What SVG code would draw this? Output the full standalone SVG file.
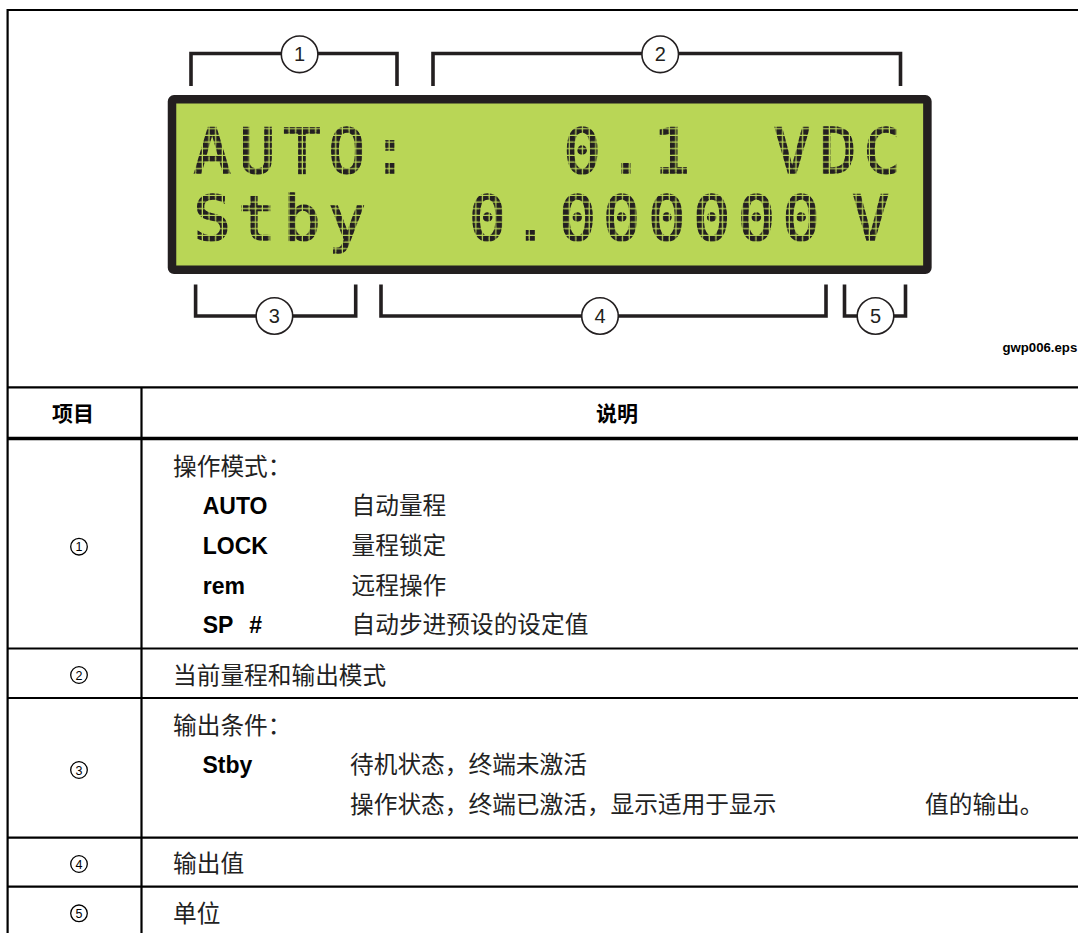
<svg xmlns="http://www.w3.org/2000/svg" width="1078" height="933" viewBox="0 0 1078 933">
<defs>
<pattern id="dots" patternUnits="userSpaceOnUse" x="196.3" y="129.3" width="6.67" height="6.67">
<rect x="0" y="0" width="5.4" height="5.4" fill="#231f20"/>
</pattern>
<style>
.frame{fill:none;stroke:#000;stroke-width:2.2}
.rule{stroke:#000;stroke-width:2.2}
.thick{stroke:#000;stroke-width:3.6}
.br{fill:none;stroke:#231f20;stroke-width:3.6}
.co{fill:#fff;stroke:#231f20;stroke-width:1.6}
.con{font-family:"Liberation Sans",Arial,sans-serif;font-size:20px;fill:#231f20;text-anchor:middle}
.lcd{font-family:"DejaVu Sans Mono",monospace;font-weight:normal;font-size:62px;fill:url(#dots);stroke:url(#dots);stroke-width:1.5;text-anchor:middle}
.tc{fill:#fff;stroke:#000;stroke-width:1.3}
.tcn{font-family:"Liberation Sans",Arial,sans-serif;font-size:12.5px;fill:#000;text-anchor:middle}
.hd{font-family:"Noto Sans CJK SC",sans-serif;font-weight:bold;font-size:21px;fill:#000;text-anchor:middle}
.cjk{font-family:"Liberation Serif","Noto Sans CJK SC",sans-serif;font-size:23.7px;fill:#222}
.lb{font-family:"Liberation Sans",Arial,sans-serif;font-weight:bold;font-size:23px;fill:#000}
.eps{font-family:"Liberation Sans",Arial,sans-serif;font-weight:bold;font-size:13.2px;fill:#000}
</style>
</defs>
<rect width="1078" height="933" fill="#fff"/>

<g id="frame">
<path class="frame" d="M1080,10 H7.6 V935"/>
</g>

<g id="lcd">
<rect x="172" y="99.3" width="755.4" height="170.5" rx="2" fill="#b9d656" stroke="#231f20" stroke-width="8.5"/>
<text class="lcd" y="173.3" x="212.2 256.9 301.9 346.9 390">AUTO:</text>
<text class="lcd" y="173.3" x="582.1 626 671.7">0.1</text>
<text class="lcd" y="173.3" x="792.2 838 882.1">VDC</text>
<text class="lcd" y="240.3" x="212.2 256.9 301.9 346.9">Stby</text>
<text class="lcd" y="240.3" x="487.7 530.5 577.3 621.7 666.8 711.6 756.4 801.1">0.000000</text>
<text class="lcd" y="240.3" x="870.7">V</text>
</g>

<g id="connectors">
<path class="br" d="M191,86 V53.5 H397 V86"/>
<path class="br" d="M433,86 V53.5 H900.5 V86"/>
<path class="br" d="M195.6,284.5 V316 H355.7 V284.5"/>
<path class="br" d="M381,284.5 V316 H826 V284.5"/>
<path class="br" d="M844.5,284.5 V316 H905.5 V284.5"/>
</g>

<g id="callout1"><circle class="co" cx="299.6" cy="54.3" r="18.3"/><text class="con" x="299.6" y="61.3">1</text></g>
<g id="callout2"><circle class="co" cx="660.2" cy="54.3" r="18.3"/><text class="con" x="660.2" y="61.3">2</text></g>
<g id="callout3"><circle class="co" cx="274.4" cy="316" r="18.3"/><text class="con" x="274.4" y="323">3</text></g>
<g id="callout4"><circle class="co" cx="600" cy="316" r="18.3"/><text class="con" x="600" y="323">4</text></g>
<g id="callout5"><circle class="co" cx="875.5" cy="316" r="18.3"/><text class="con" x="875.5" y="323">5</text></g>

<text class="eps" x="1002.5" y="352">gwp006.eps</text>

<g id="table-grid">
<line class="rule" x1="7.6" y1="387.3" x2="1080" y2="387.3"/>
<line class="thick" x1="7.6" y1="438.5" x2="1080" y2="438.5"/>
<line class="rule" x1="7.6" y1="648.5" x2="1080" y2="648.5"/>
<line class="rule" x1="7.6" y1="698" x2="1080" y2="698"/>
<line class="rule" x1="7.6" y1="837.7" x2="1080" y2="837.7"/>
<line class="rule" x1="7.6" y1="886.7" x2="1080" y2="886.7"/>
<line class="rule" x1="141.5" y1="387.3" x2="141.5" y2="935"/>
</g>

<g id="header">
<text class="hd" x="73" y="421">项目</text>
<text class="hd" x="617" y="421">说明</text>
</g>

<g id="row1">
<circle class="tc" cx="79" cy="546.7" r="8.3"/><text class="tcn" x="79" y="551.2">1</text>
<text class="cjk" x="173" y="475">操作模式：</text>
<text class="lb" x="202.7" y="514.3">AUTO</text>
<text class="cjk" x="351.5" y="514.3">自动量程</text>
<text class="lb" x="202.7" y="554">LOCK</text>
<text class="cjk" x="351.5" y="554">量程锁定</text>
<text class="lb" x="202.7" y="593.5">rem</text>
<text class="cjk" x="351.5" y="593.5">远程操作</text>
<text class="lb" x="202.7" y="633.3">SP<tspan x="249.3">#</tspan></text>
<text class="cjk" x="351.5" y="633.3">自动步进预设的设定值</text>
</g>

<g id="row2">
<circle class="tc" cx="79" cy="675" r="8.3"/><text class="tcn" x="79" y="679.5">2</text>
<text class="cjk" x="173" y="683.5">当前量程和输出模式</text>
</g>

<g id="row3">
<circle class="tc" cx="79" cy="770" r="8.3"/><text class="tcn" x="79" y="774.5">3</text>
<text class="cjk" x="173" y="734">输出条件：</text>
<text class="lb" x="202.5" y="772.7">Stby</text>
<text class="cjk" x="350" y="772.7">待机状态，终端未激活</text>
<text class="cjk" x="350" y="812.5">操作状态，终端已激活，显示适用于显示</text>
<text class="cjk" x="925" y="812.5">值的输出。</text>
</g>

<g id="row4">
<circle class="tc" cx="79" cy="864" r="8.3"/><text class="tcn" x="79" y="868.5">4</text>
<text class="cjk" x="173" y="871.5">输出值</text>
</g>

<g id="row5">
<circle class="tc" cx="79" cy="913.3" r="8.3"/><text class="tcn" x="79" y="917.8">5</text>
<text class="cjk" x="173" y="921.5">单位</text>
</g>
</svg>
